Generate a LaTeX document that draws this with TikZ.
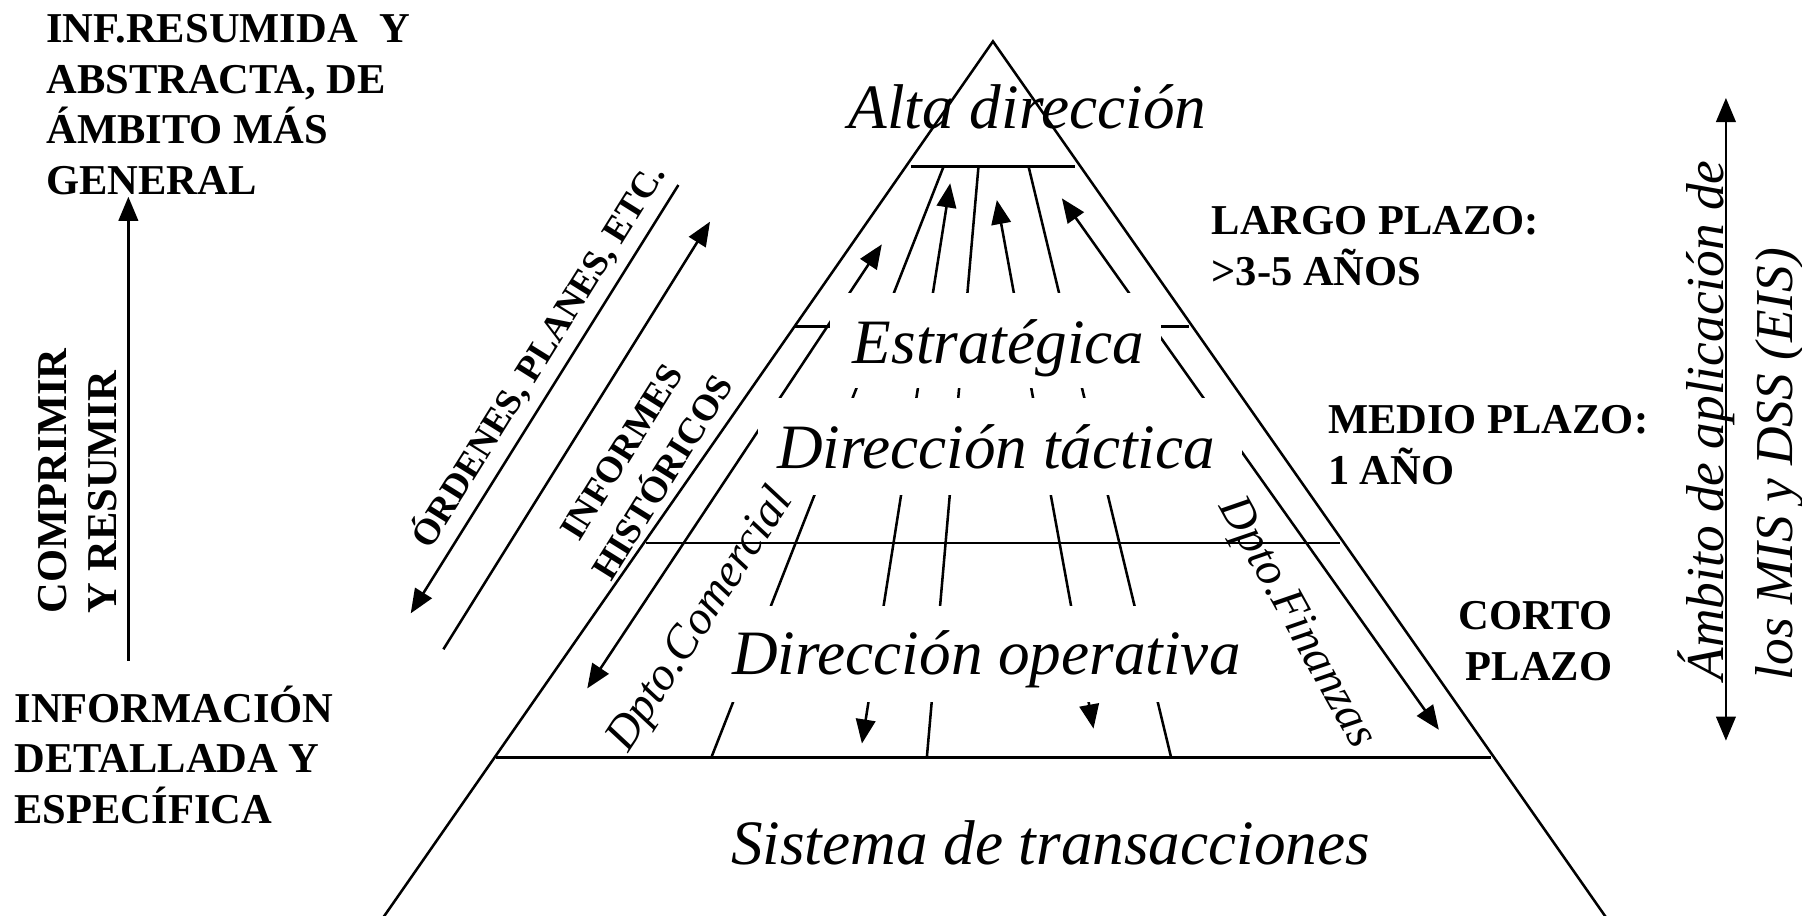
\documentclass[tikz,border=0pt]{standalone}
\usepackage{fontspec}
\setmainfont{Liberation Serif}
\usepackage{tikz}
\usetikzlibrary{arrows.meta}
\tikzset
{
    levellabel/.style = {font=\fontsize{55}{60}\selectfont\itshape, inner sep=0pt, anchor=base west},
    sidelabel/.style  = {font=\fontsize{37}{44}\selectfont\bfseries, inner sep=0pt, align=left},
    diaglabel/.style  = {font=\fontsize{32}{42}\selectfont\bfseries, inner sep=0pt},
    dptolabel/.style  = {font=\fontsize{41}{48}\selectfont\itshape, inner sep=0pt, anchor=base west},
    scopelabel/.style = {font=\fontsize{46.4}{60.4}\selectfont\itshape, inner sep=0pt, align=left},
    mask/.style       = {fill=white, draw=none}
}

\begin{document}
\begin{tikzpicture}[x=1pt, y=-1pt, line width=2.2pt, >={Triangle[length=21pt,width=17pt]}]
    \useasboundingbox (0,0) rectangle (1568,797);

    \coordinate (apex)  at (864,36);
    \coordinate (baseL) at (333,799);
    \coordinate (baseR) at (1398,799);

    \coordinate (f1a) at (767.3,212.6);  \coordinate (f1b) at (511,599);
    \coordinate (f2a) at (821,145);      \coordinate (f2b) at (619,659);
    \coordinate (f3a) at (826.8,159.5);  \coordinate (f3b) at (750,647);
    \coordinate (f4a) at (851.4,145);    \coordinate (f4b) at (806.5,659);
    \coordinate (f5a) at (867.4,174);    \coordinate (f5b) at (951.5,634);
    \coordinate (f6a) at (895,145);      \coordinate (f6b) at (1019,659);
    \coordinate (f7a) at (924,172.6);    \coordinate (f7b) at (1252,635);

    \coordinate (h1l) at (793,145);      \coordinate (h1r) at (935.6,145);
    \coordinate (h2l) at (691.9,284.3);  \coordinate (h2r) at (1035,284.3);
    \coordinate (h3l) at (562,472.3);    \coordinate (h3r) at (1166,472.3);
    \coordinate (h4l) at (432,659);      \coordinate (h4r) at (1297,659);

    \draw[<->] (f1a) -- (f1b);
    \draw (f2a) -- (f2b);
    \draw[<->] (f3a) -- (f3b);
    \draw (f4a) -- (f4b);
    \draw[<->] (f5a) -- (f5b);
    \draw (f6a) -- (f6b);
    \draw[<->] (f7a) -- (f7b);

    \draw (h1l) -- (h1r);
    \draw (h2l) -- (h2r);
    \draw (h3l) -- (h3r);
    \draw[line width=2.9pt] (h4l) -- (h4r);

    \fill[mask] (722.4,254.7) rectangle (1010,338);
    \fill[mask] (659.6,346.7) rectangle (1081,430.8);
    \fill[mask] (600,527.4) rectangle (1120,610.7);

    \draw (baseL) -- (apex) -- (baseR);

    \node[levellabel] (alta)    at (737.4,112) {Alta dirección};
    \node[levellabel] (estrat)  at (741,316)   {Estratégica};
    \node[levellabel] (tactica) at (675,407.5) {Dirección táctica};
    \node[levellabel] (operat)  at (636,587)   {Dirección operativa};
    \node[levellabel] (transac) at (635,752)   {Sistema de transacciones};

    \node[sidelabel, anchor=base west] (resumida)  at (39.2,169.1) {INF.RESUMIDA~~Y\\ABSTRACTA, DE\\ÁMBITO MÁS\\GENERAL};
    \node[sidelabel, anchor=base west] (detallada) at (11.6,716.3) {INFORMACIÓN\\DETALLADA Y\\ESPECÍFICA};
    \node[sidelabel, rotate=90, anchor=base west] (comprimir) at (101.5,534.5) {COMPRIMIR\\Y RESUMIR};
    \coordinate (compB) at (111.7,575);
    \coordinate (compT) at (111.7,171.2);
    \draw[->] (compB) -- (compT);

    \coordinate (ordA) at (590.3,161);   \coordinate (ordB) at (357.4,533.7);
    \coordinate (infA) at (385.8,565);   \coordinate (infB) at (617.8,192.9);
    \draw[->] (ordA) -- (ordB);
    \draw[->] (infA) -- (infB);
    \node[diaglabel, rotate=58, anchor=base west] (ordenes) at (374,480) {ÓRDENES, PLANES, ETC.};
    \node[diaglabel, rotate=58, align=center] (informes) at (558.8,404.5) {INFORMES\\HISTÓRICOS};
    \node[dptolabel, rotate=57]  (comercial) at (546,657)  {Dpto.Comercial};
    \node[dptolabel, rotate=-61] (finanzas)  at (1060,440) {Dpto.Finanzas};

    \node[sidelabel, anchor=base west] (largo) at (1053.2,248.3) {LARGO PLAZO:\\>3-5 AÑOS};
    \node[sidelabel, anchor=base west] (medio) at (1154.5,421.2) {MEDIO PLAZO:\\1 AÑO};
    \node[sidelabel, align=right, anchor=base east] (corto) at (1404,592.1) {CORTO\\PLAZO};

    \coordinate (ambT) at (1501.8,85.2);
    \coordinate (ambB) at (1501.8,644.5);
    \draw[<->] (ambT) -- (ambB);
    \node[scopelabel, rotate=90, anchor=base west] (ambito) at (1559.7,593) {Ámbito de aplicación de\\los MIS y DSS (EIS)};
\end{tikzpicture}
\end{document}
